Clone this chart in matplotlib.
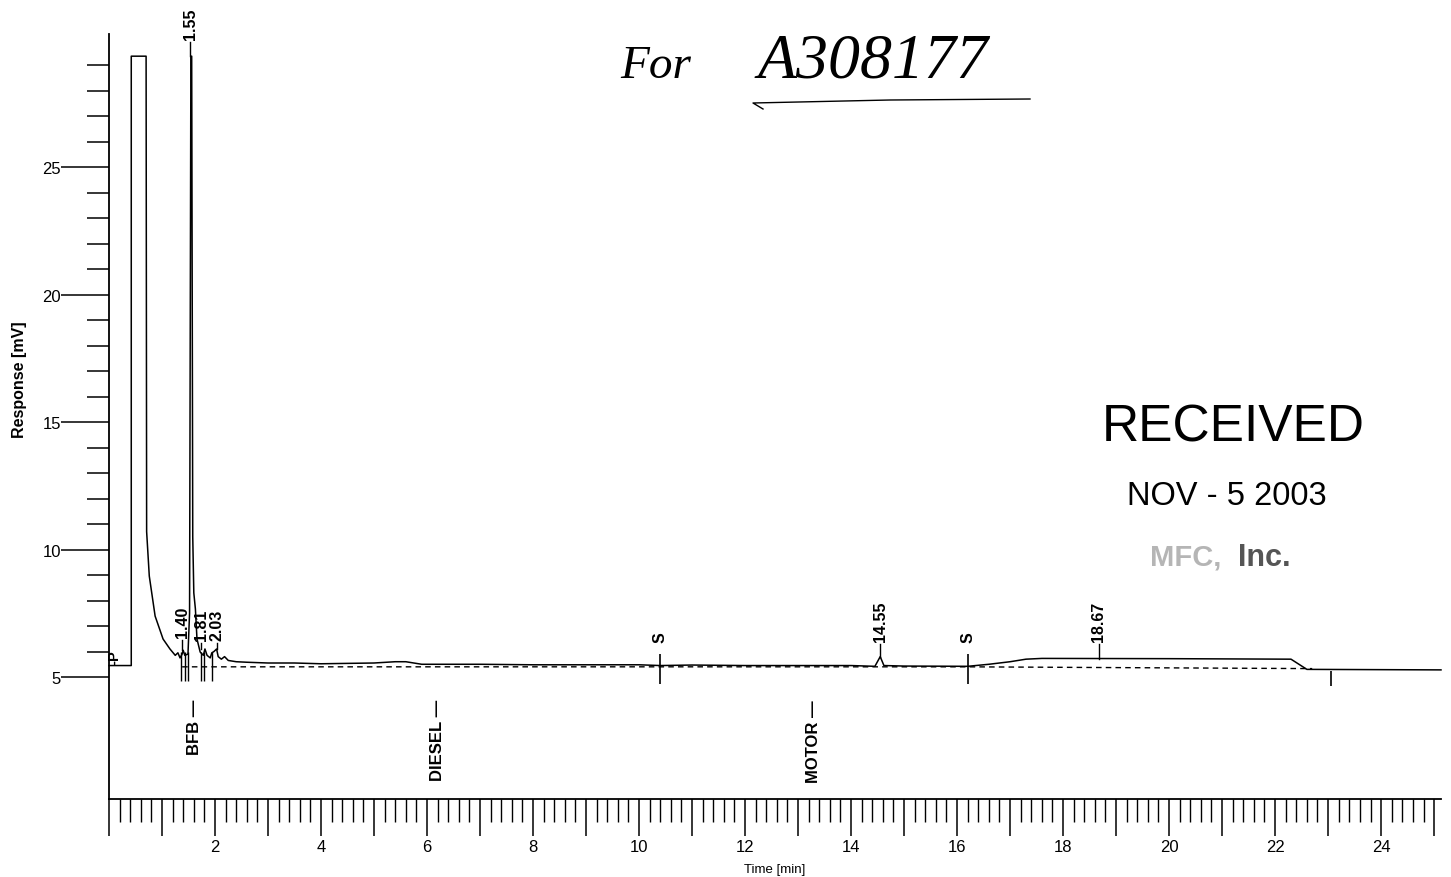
import matplotlib
matplotlib.use("Agg")
import matplotlib.pyplot as plt
from matplotlib.lines import Line2D

plt.rcParams["font.family"] = ["Liberation Sans", "DejaVu Sans"]

# Chromatogram trace (time in min, response in mV)
trace_time = [0.00, 0.42, 0.42, 0.70, 0.71, 0.76, 0.87, 1.02, 1.15, 1.25, 1.30, 1.34,
              1.38, 1.40, 1.43, 1.49, 1.52, 1.545, 1.56, 1.58, 1.60, 1.63, 1.66, 1.72,
              1.78, 1.81, 1.85, 1.91, 1.94, 1.98, 2.03, 2.06, 2.12, 2.18, 2.25, 2.40,
              2.60, 3.00, 3.50, 4.00, 5.00, 5.40, 5.60, 5.90, 7.00, 8.00, 9.00, 10.00,
              10.40, 11.00, 12.00, 13.00, 14.00, 14.45, 14.55, 14.62, 15.00, 16.20,
              16.60, 17.00, 17.30, 17.60, 20.00, 22.30, 22.60, 25.13]
trace_mv = [5.45, 5.45, 29.35, 29.35, 10.70, 8.96, 7.39, 6.49, 6.10, 5.85, 5.95, 5.75,
            5.90, 6.05, 5.85, 5.90, 7.50, 29.35, 29.35, 10.50, 8.30, 7.67, 6.49, 5.98,
            5.85, 6.10, 5.85, 5.75, 5.95, 6.00, 6.10, 5.80, 5.70, 5.80, 5.65, 5.60,
            5.58, 5.55, 5.55, 5.52, 5.55, 5.60, 5.60, 5.50, 5.50, 5.48, 5.48, 5.48,
            5.45, 5.47, 5.45, 5.45, 5.45, 5.42, 5.80, 5.45, 5.43, 5.42,
            5.50, 5.60, 5.70, 5.73, 5.72, 5.70, 5.30, 5.28]

# Dashed integration baseline
base_time = [1.38, 16.20, 22.70]
base_mv = [5.40, 5.40, 5.33]

# Peak retention-time labels
peak_labels = ["1.40", "1.55", "1.81", "2.03", "14.55", "18.67"]
peak_times = [1.38, 1.53, 1.74, 2.03, 14.55, 18.67]
peak_label_base = [6.57, 30.02, 6.45, 6.45, 6.41, 6.41]
peak_tick_low = [6.05, 29.35, 6.10, 6.10, 5.80, 5.72]

# Peak start / end markers around the early peaks
marker_times = [1.36, 1.43, 1.49, 1.74, 1.79, 1.94]

# Segment markers "S" and the end marker
s_times = [10.40, 16.20]
end_time = 23.05

# Range labels under the baseline
range_names = ["BFB \u2014", "DIESEL \u2014", "MOTOR \u2014"]
range_times = [1.62, 6.20, 13.30]

yticks_major = [5, 10, 15, 20, 25]
yticks_minor = [v for v in range(6, 30) if v % 5 != 0]
xticks_major = list(range(0, 26))
xticks_minor = [round(0.2 * i, 1) for i in range(0, 126)]

W, H = 1451, 878
fig = plt.figure(figsize=(W / 100, H / 100), dpi=100)
ax = fig.add_axes([109 / W, 78 / H, 1332 / W, 765 / H])

ax.plot(trace_time, trace_mv, color="black", lw=1.1, clip_on=False)
ax.plot(base_time, base_mv, color="black", lw=1.0, linestyle=(0, (4, 3)))

bold = dict(fontsize=11.5, fontweight="bold", rotation=90, ha="center", va="bottom")
for lab, t, yb, yl in zip(peak_labels, peak_times, peak_label_base, peak_tick_low):
    ax.text(t, yb, lab, clip_on=False, **bold)
    ax.plot([t, t], [yl, yb - 0.1], color="black", lw=1.0, clip_on=False)

ax.vlines(marker_times, 4.84, 6.0, color="black", lw=1.0)
for t in s_times:
    ax.vlines(t, 4.73, 5.9, color="black", lw=1.2)
    ax.text(t, 6.37, "S", **bold)
ax.vlines(end_time, 4.65, 5.24, color="black", lw=1.2)

ax.text(0.10, 5.5, "-P", fontsize=10.5, fontweight="bold", rotation=90,
        ha="center", va="bottom")

for name, t in zip(range_names, range_times):
    ax.text(t, 4.14, name, fontsize=12, fontweight="bold", rotation=90,
            ha="center", va="top")

ax.set_xlim(0, 25.13)
ax.set_ylim(0.216, 30.22)
for s in ["top", "right"]:
    ax.spines[s].set_visible(False)
for s in ["left", "bottom"]:
    ax.spines[s].set_linewidth(1.3)

ax.set_yticks(yticks_major)
ax.set_yticks(yticks_minor, minor=True)
ax.set_xticks(xticks_major)
ax.set_xticklabels(["" if (v % 2 or v == 0) else str(v) for v in xticks_major])
ax.set_xticks(xticks_minor, minor=True)
ax.tick_params(axis="y", which="major", length=34.5, width=1.1, pad=0, labelsize=12)
ax.tick_params(axis="y", which="minor", length=16, width=1.1)
ax.tick_params(axis="x", which="major", length=26.5, width=1.1, pad=2, labelsize=12)
ax.tick_params(axis="x", which="minor", length=16.5, width=1.0)

ax.set_xlabel("Time [min]", fontsize=9.5, labelpad=7)
ax.set_ylabel("Response [mV]", fontsize=11.5, fontweight="bold")
ax.yaxis.set_label_coords((27 - 109) / 1332, (800 - 380) / 765)


def px(x, y):
    return x / W, 1 - y / H


# Handwritten note
fig.text(*px(620, 78), "For", fontsize=34, family="Liberation Serif",
         style="italic", va="baseline")
fig.text(*px(758, 78), "A308177", fontsize=46, family="Liberation Serif",
         style="italic", va="baseline")
xs, ys = zip(*[px(763, 110), px(753, 104), px(890, 101), px(1030, 100)])
fig.add_artist(Line2D(xs, ys, color="black", lw=1.0, transform=fig.transFigure))

# Received stamp
fig.text(*px(1102, 442), "RECEIVED", fontsize=37, va="baseline")
fig.text(*px(1127, 505), "NOV - 5 2003", fontsize=23.5, va="baseline")
fig.text(*px(1150, 566), "MFC,", fontsize=21, fontweight="bold",
         color="#b5b5b5", va="baseline")
fig.text(*px(1238, 566), "Inc.", fontsize=22, fontweight="bold",
         color="#555555", va="baseline")

fig.savefig("out.png", dpi=100)
